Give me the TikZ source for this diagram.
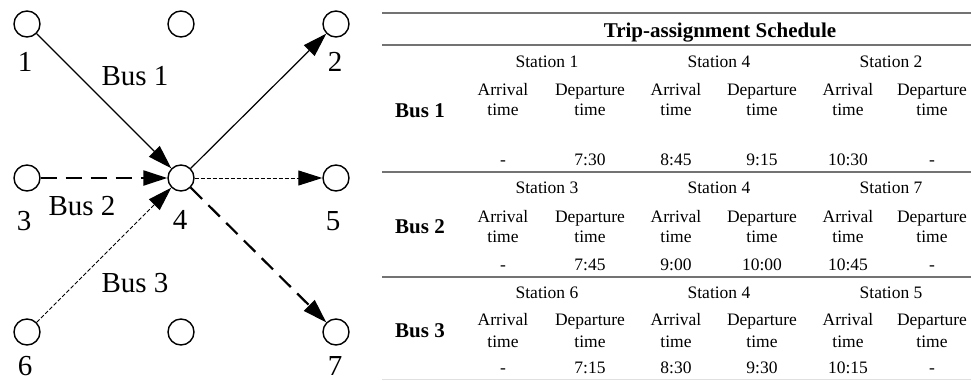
\documentclass[tikz,border=0pt]{standalone}
\usepackage{fontspec}
\setmainfont{Liberation Serif}
\usetikzlibrary{arrows.meta}
\tikzset{
  stn/.style={circle,draw,line width=1.4pt,minimum size=26pt,inner sep=0pt,fill=white},
  numlbl/.style={anchor=base,inner sep=0pt,font=\fontsize{29}{30}\selectfont},
  buslbl/.style={anchor=base,inner sep=0pt,font=\fontsize{29}{30}\selectfont},
  arrhead/.style={-{Triangle[length=24pt,width=15pt]}},
  solidarr/.style={arrhead,line width=1.2pt},
  bigdash/.style={arrhead,line width=2.2pt,dash pattern=on 16pt off 9pt},
  smalldash/.style={arrhead,line width=1pt,dash pattern=on 4pt off 2pt},
  cell/.style={anchor=base,inner sep=0pt,font=\fontsize{17.5}{18}\selectfont},
  bushead/.style={anchor=base,inner sep=0pt,font=\fontsize{21}{22}\selectfont\bfseries},
  rulel/.style={draw=black!55,line width=1.3pt}
}
\newcommand\schedblock[8]{%
  \node[bushead] (b#1) at (420,#6) {Bus #1};
  \foreach \s [count=\i] in {#7} {\node[cell] (b#1s\i) at ({547+172*(\i-1)},#2) {Station \s};}
  \foreach \x/\w [count=\i] in {503/Arrival,590/Departure,676/Arrival,762/Departure,848/Arrival,932/Departure} {
    \node[cell] (b#1h\i) at (\x,#3) {\w};
    \node[cell] (b#1t\i) at (\x,#4) {time};
  }
  \foreach \x/\v [count=\i] in {#8} {\node[cell] (b#1v\i) at (\x,#5) {\v};}
}
\begin{document}
\begin{tikzpicture}[x=1pt,y=-1pt]
\useasboundingbox (0,0) rectangle (971,380);
% stations
\node[stn] (n1) at (27,24) {};
\node[stn] (nt) at (181,24) {};
\node[stn] (n2) at (336,24) {};
\node[stn] (n3) at (27,178) {};
\node[stn] (n4) at (181,178) {};
\node[stn] (n5) at (336,178) {};
\node[stn] (n6) at (27,332) {};
\node[stn] (nb) at (181,332) {};
\node[stn] (n7) at (336,332) {};
% labels
\node[numlbl] (l1) at (25,71) {1};
\node[numlbl] (l2) at (335,71) {2};
\node[numlbl] (l3) at (24,230) {3};
\node[numlbl] (l4) at (180,229) {4};
\node[numlbl] (l5) at (333,230) {5};
\node[numlbl] (l6) at (25,375) {6};
\node[numlbl] (l7) at (335,375) {7};
\node[buslbl] (bl1) at (135,85) {Bus 1};
\node[buslbl] (bl2) at (82,215) {Bus 2};
\node[buslbl] (bl3) at (135,292) {Bus 3};
% routes
\draw[solidarr] (n1) -- (n4);
\draw[solidarr] (n4) -- (n2);
\draw[bigdash] (n3) -- (n4);
\draw[bigdash] (n4) -- (n7);
\draw[smalldash] (n6) -- (n4);
\draw[smalldash] (n4) -- (n5);
% table
\coordinate (r0l) at (382,13); \coordinate (r0r) at (971,13);
\coordinate (r1l) at (382,45); \coordinate (r1r) at (971,45);
\coordinate (r2l) at (382,172); \coordinate (r2r) at (971,172);
\coordinate (r3l) at (382,277); \coordinate (r3r) at (971,277);
\coordinate (r4l) at (382,379); \coordinate (r4r) at (971,379);
\draw[rulel] (r0l) -- (r0r);
\draw[rulel] (r1l) -- (r1r);
\draw[rulel] (r2l) -- (r2r);
\draw[rulel] (r3l) -- (r3r);
\draw[draw=black!12,line width=0.8pt] (r4l) -- (r4r);
\node[bushead] (title) at (720,37) {Trip-assignment Schedule};
\schedblock{1}{67}{95}{115}{165}{117}{1,4,2}{503/-,590/7:30,676/8:45,762/9:15,848/10:30,932/-}
\schedblock{2}{193}{222}{242}{270}{233}{3,4,7}{503/-,590/7:45,676/9:00,762/10:00,848/10:45,932/-}
\schedblock{3}{298}{325}{347}{373}{337}{6,4,5}{503/-,590/7:15,676/8:30,762/9:30,848/10:15,932/-}
\end{tikzpicture}
\end{document}
